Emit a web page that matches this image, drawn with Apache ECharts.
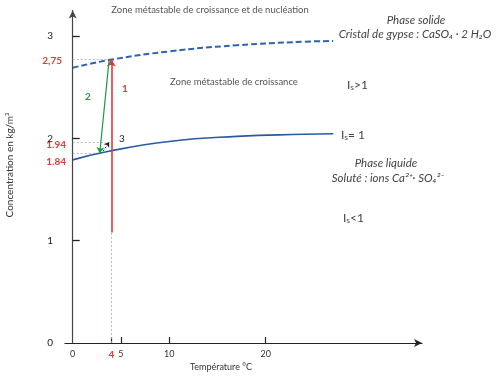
<!DOCTYPE html>
<html><head><meta charset="utf-8">
<script src="https://cdn.jsdelivr.net/npm/echarts@6/dist/echarts.min.js"></script>
<style>html,body{margin:0;padding:0;background:#fff}#c{width:500px;height:376px}</style>
</head><body><div id="c"></div>
<script>
// ---- data ----
const tempTicks = [0, 4, 5, 10, 20];
const concTicks = [0, 1, 2, 3];
const concTickMarks = [1, 2, 3];
// saturation curve (Is = 1)
const satTemp = [0, 3.5, 10, 17, 24, 27];
const satConc = [1.79, 1.87, 1.97, 2.02, 2.04, 2.045];
// metastable limit (dashed)
const metaTemp = [0, 4, 10, 17, 24, 27];
const metaConc = [2.69, 2.77, 2.85, 2.91, 2.945, 2.952];
// arrows  [from, to]
const arrow1 = [[4, 1.08], [4, 2.77]];
const arrow2 = [[3.77, 2.765], [2.8, 1.855]];
const arrow3 = [[3.15, 1.875], [3.78, 1.965]];
// guide lines
const guideLines = [
  [[0, 2.77], [4, 2.77]],
  [[0, 1.965], [3.4, 1.965]],
  [[0, 1.855], [2.8, 1.855]]
];
const vGuide = [[4, 0], [4, 1.08]];
const annotLabels = ['2,75', '1.94', '1.84'];

const F = 'Lato, "Open Sans", sans-serif';
const chart = echarts.init(document.getElementById('c'), null, {renderer: 'canvas'});
const zip = (a, b) => a.map((v, i) => [v, b[i]]);

chart.setOption({
  animation: false,
  grid: {left: 65, right: 78, top: 10.5, bottom: 33},
  xAxis: {
    type: 'value', min: -0.8, max: 36.2,
    splitLine: {show: false},
    axisLine: {onZero: false, symbol: ['none', 'arrow'], symbolSize: [6, 8], lineStyle: {color: '#222', width: 1.2}},
    axisTick: {show: true, inside: true, length: 6, customValues: [4, 5, 10, 20], lineStyle: {color: '#222', width: 1.2}},
    axisLabel: {
      customValues: tempTicks, margin: 7, fontFamily: F, fontSize: 9, color: '#333',
      formatter: v => v === 4 ? '{r|4}' : String(v),
      rich: {r: {color: '#e03a3a', fontWeight: 'bold', fontFamily: F, fontSize: 10}}
    }
  },
  yAxis: {
    type: 'value', min: 0, max: 3.25,
    splitLine: {show: false},
    axisLine: {onZero: true, symbol: ['none', 'arrow'], symbolSize: [6, 8], lineStyle: {color: '#444', width: 1.2}},
    axisTick: {show: true, inside: true, length: 7, customValues: concTickMarks, lineStyle: {color: '#222', width: 1.3}},
    axisLabel: {customValues: concTicks, margin: 12, fontFamily: F, fontSize: 10, color: '#222'}
  },
  series: [
    {type: 'line', data: zip(metaTemp, metaConc), smooth: true, showSymbol: false,
      lineStyle: {color: '#2f62b0', width: 2, type: [6, 3]}, z: 3},
    {type: 'line', data: zip(satTemp, satConc), smooth: true, showSymbol: false,
      lineStyle: {color: '#2a5aa6', width: 1.6}, z: 3},
    {type: 'lines', coordinateSystem: 'cartesian2d', polyline: false, symbol: ['none', 'none'],
      lineStyle: {color: '#aab', width: 0.8, type: [2, 2], opacity: 1},
      data: guideLines.map(c => ({coords: c})), z: 2},
    {type: 'lines', coordinateSystem: 'cartesian2d', polyline: false, symbol: ['none', 'none'],
      lineStyle: {color: '#9ab0c8', width: 0.8, type: [2, 2], opacity: 1},
      data: [{coords: vGuide}], z: 2},
    {type: 'lines', coordinateSystem: 'cartesian2d', polyline: false, symbol: ['none', 'arrow'], symbolSize: 7,
      lineStyle: {color: '#e2383c', width: 1.6, opacity: 1},
      data: [{coords: arrow1}], z: 4},
    {type: 'lines', coordinateSystem: 'cartesian2d', polyline: false, symbol: ['none', 'arrow'], symbolSize: 6,
      lineStyle: {color: '#1e9a40', width: 1.2, opacity: 1},
      data: [{coords: arrow2}], z: 5},
    {type: 'lines', coordinateSystem: 'cartesian2d', polyline: false, symbol: ['none', 'arrow'], symbolSize: 5,
      lineStyle: {color: '#222', width: 0.9, type: [2, 1.5], opacity: 1},
      data: [{coords: arrow3}], z: 5}
  ],
  graphic: [
    {type: 'text', x: 10, y: 165, rotation: Math.PI / 2,
      style: {text: 'Concentration en kg/m³', font: '10px ' + F, fill: '#333', align: 'center', verticalAlign: 'middle'}},
    {type: 'text', x: 221, y: 367,
      style: {text: 'Température °C', font: '9px ' + F, fill: '#333', align: 'center', verticalAlign: 'middle'}},
    {type: 'text', x: 210, y: 10,
      style: {text: 'Zone métastable de croissance et de nucléation', font: '9.5px ' + F, fill: '#555', align: 'center', verticalAlign: 'middle'}},
    {type: 'text', x: 234, y: 82,
      style: {text: 'Zone métastable de croissance', font: '9.5px ' + F, fill: '#555', align: 'center', verticalAlign: 'middle'}},
    {type: 'text', x: 416, y: 20,
      style: {text: 'Phase solide', font: 'italic 11.5px ' + F, fill: '#444', align: 'center', verticalAlign: 'middle'}},
    {type: 'text', x: 415, y: 34,
      style: {text: 'Cristal de gypse : CaSO₄ · 2 H₂O', font: 'italic 11.5px ' + F, fill: '#444', align: 'center', verticalAlign: 'middle'}},
    {type: 'text', x: 347, y: 85,
      style: {text: 'Iₛ>1', font: '12px ' + F, fill: '#444', align: 'left', verticalAlign: 'middle'}},
    {type: 'text', x: 341, y: 135,
      style: {text: 'Iₛ= 1', font: '12px ' + F, fill: '#444', align: 'left', verticalAlign: 'middle'}},
    {type: 'text', x: 386, y: 163,
      style: {text: 'Phase liquide', font: 'italic 11.5px ' + F, fill: '#444', align: 'center', verticalAlign: 'middle'}},
    {type: 'text', x: 388, y: 178,
      style: {text: 'Soluté : ions Ca²⁺· SO₄²⁻', font: 'italic 11.5px ' + F, fill: '#444', align: 'center', verticalAlign: 'middle'}},
    {type: 'text', x: 343, y: 218,
      style: {text: 'Iₛ<1', font: '12px ' + F, fill: '#444', align: 'left', verticalAlign: 'middle'}},
    {type: 'text', x: 62, y: 61,
      style: {text: annotLabels[0], font: 'bold 10px ' + F, fill: '#e03a3a', align: 'right', verticalAlign: 'middle'}},
    {type: 'text', x: 66, y: 145,
      style: {text: annotLabels[1], font: 'bold 10px ' + F, fill: '#e03a3a', align: 'right', verticalAlign: 'middle'}},
    {type: 'text', x: 66, y: 162,
      style: {text: annotLabels[2], font: 'bold 10px ' + F, fill: '#e03a3a', align: 'right', verticalAlign: 'middle'}},
    {type: 'text', x: 88, y: 97,
      style: {text: '2', font: 'bold 10px ' + F, fill: '#1e9a40', align: 'center', verticalAlign: 'middle'}},
    {type: 'text', x: 125, y: 89,
      style: {text: '1', font: 'bold 10px ' + F, fill: '#e2383c', align: 'center', verticalAlign: 'middle'}},
    {type: 'text', x: 122, y: 139,
      style: {text: '3', font: '10px ' + F, fill: '#222', align: 'center', verticalAlign: 'middle'}}
  ]
});
</script></body></html>
